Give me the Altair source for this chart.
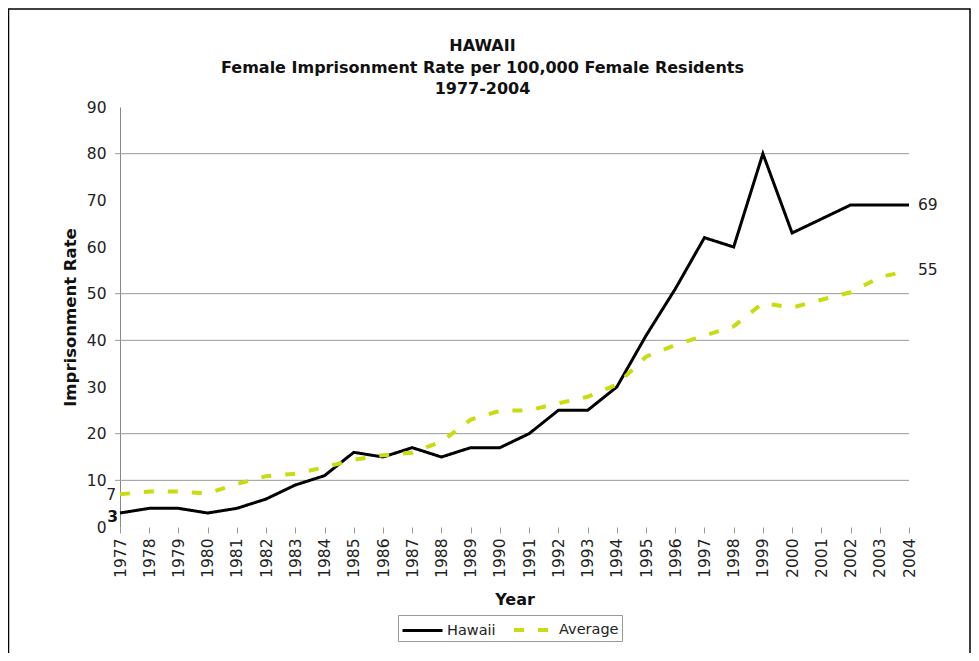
import altair as alt
import pandas as pd

years = list(range(1977, 2005))
hawaii = [3, 4, 4, 3, 4, 6, 9, 11, 16, 15, 17, 15, 17, 17, 20, 25, 25, 30,
          41, 51, 62, 60, 80, 63, 66, 69, 69, 69]
average = [7, 7.6, 7.6, 7.2, 9.2, 10.9, 11.4, 12.8, 14.4, 15.4, 15.9, 18.3, 23, 24.9,
           25, 26.5, 27.9, 30.5, 36.5, 39, 41, 43, 48, 47, 48.7, 50.3, 53.5, 55]
series_names = ["Hawaii", "Average"]
grid_values = [10, 20, 40, 50, 80]
y_ticks = list(range(0, 91, 10))

FONT = "DejaVu Sans"
W, H = 789, 420

rows = []
for i, yr in enumerate(years):
    rows.append({"year": yr, "series": "Hawaii", "value": hawaii[i]})
    rows.append({"year": yr, "series": "Average", "value": average[i]})
df = pd.DataFrame(rows)

xscale = alt.Scale(type="point", domain=years, padding=0)
xs = alt.X("year:O", scale=xscale,
           axis=alt.Axis(labelAngle=-90, labelAlign="right",
                         labelBaseline="middle", labelFontSize=15.5, labelColor="#222",
                         labelPadding=5, tickSize=6, tickColor="#999", domain=False, grid=False,
                         title="Year", titleFontSize=16, titleFontWeight="bold",
                         titleColor="#111", titlePadding=14, labelOverlap=False))
ys = alt.Y("value:Q", scale=alt.Scale(domain=[0, 90], nice=False),
           axis=alt.Axis(values=y_ticks, grid=False, ticks=False, domain=True,
                         domainColor="#888", labelFontSize=15.5, labelColor="#222",
                         labelPadding=14, title="Imprisonment Rate", titleFontSize=16.5,
                         titleFontWeight="bold", titleColor="#111", titlePadding=8))

legend_opts = dict(title=None, orient="none", legendX=278, legendY=508,
                   direction="horizontal", symbolType="M-2,0L2,0", symbolSize=400,
                   symbolOffset=10, symbolStrokeWidth=3, labelFontSize=14.5, labelColor="#222",
                   labelOffset=13, strokeColor="#999", fillColor="white", padding=3,
                   columnPadding=10)

grid = alt.Chart(pd.DataFrame({"g": grid_values})).mark_rule(color="#999", strokeWidth=1).encode(
    y=alt.Y("g:Q"), x=alt.value(-5), x2=alt.value(W))

lines = alt.Chart(df).mark_line(strokeCap="butt").encode(
    x=xs, y=ys,
    color=alt.Color("series:N", scale=alt.Scale(domain=series_names, range=["#000000", "#c8dc10"]),
                    legend=alt.Legend(**legend_opts)),
    strokeDash=alt.StrokeDash("series:N", scale=alt.Scale(domain=series_names, range=[[1, 0], [10, 14]]),
                              legend=alt.Legend(**legend_opts)),
    strokeWidth=alt.StrokeWidth("series:N", scale=alt.Scale(domain=series_names, range=[3, 4]), legend=None),
)

right_labels = alt.Chart(df).transform_filter(alt.datum.year == years[-1]).mark_text(
    align="left", baseline="middle", dx=9, fontSize=15.5, font=FONT, color="#222").encode(
    x=alt.X("year:O", scale=xscale), y="value:Q", text=alt.Text("value:Q", format=".0f"))

left_avg = alt.Chart(df).transform_filter(
    (alt.datum.year == years[0]) & (alt.datum.series == "Average")).mark_text(
    align="right", baseline="middle", dx=-4, dy=1, fontSize=15.5, font=FONT, color="#222").encode(
    x=alt.X("year:O", scale=xscale), y="value:Q", text=alt.Text("value:Q", format=".0f"))

left_haw = alt.Chart(df).transform_filter(
    (alt.datum.year == years[0]) & (alt.datum.series == "Hawaii")).mark_text(
    align="right", baseline="middle", dx=-2, dy=4, fontSize=15.5, font=FONT, fontWeight="bold",
    color="#111").encode(
    x=alt.X("year:O", scale=xscale), y="value:Q", text=alt.Text("value:Q", format=".0f"))

border = alt.Chart(pd.DataFrame({"a": [0]})).mark_rect(
    fillOpacity=0, stroke="#000", strokeWidth=1.5).encode(
    x=alt.value(-111.5), x2=alt.value(W + 61), y=alt.value(-98), y2=alt.value(560))

chart = alt.layer(border, grid, lines, right_labels, left_avg, left_haw).properties(
    width=W, height=H,
    autosize=alt.AutoSizeParams(type="none"),
    padding={"left": 112, "top": 99, "right": 62, "bottom": 126},
    title=alt.TitleParams(
        text=["HAWAII", "Female Imprisonment Rate per 100,000 Female Residents", "1977-2004"],
        fontSize=16, font=FONT, fontWeight="bold", color="#111", anchor="middle",
        dx=-32, dy=89, offset=0, lineHeight=21.5),
).configure(font=FONT).configure_view(strokeWidth=0)

chart.save("out.html", embed_options={"renderer": "svg", "actions": False})
